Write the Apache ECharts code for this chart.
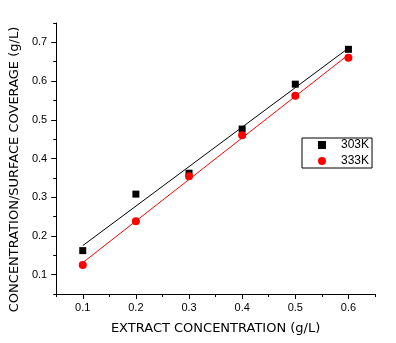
<!DOCTYPE html>
<html>
<head>
<meta charset="utf-8">
<script src="https://cdn.jsdelivr.net/npm/echarts@6/dist/echarts.min.js"></script>
<style>
  html, body { margin: 0; padding: 0; background: #fff; }
  #chart { width: 396px; height: 343px; }
</style>
</head>
<body>
<div id="chart"></div>
<script>
const concX = [0.1, 0.2, 0.3, 0.4, 0.5, 0.6]
const vals303 = [0.162, 0.308, 0.362, 0.476, 0.592, 0.682]
const vals333 = [0.125, 0.238, 0.354, 0.460, 0.562, 0.660]
// fitted lines, read at x = 0.1 and x = 0.6
const fitX = [0.1, 0.6]
const fit303 = [0.175, 0.685]
const fit333 = [0.131, 0.668]
const xMajor = [0.1, 0.2, 0.3, 0.4, 0.5, 0.6]
const xMinor = [0.05, 0.15, 0.25, 0.35, 0.45, 0.55, 0.65]
const yMajor = [0.1, 0.2, 0.3, 0.4, 0.5, 0.6, 0.7]
const yMinor = [0.05, 0.15, 0.25, 0.35, 0.45, 0.55, 0.65, 0.75]

const font = 'Liberation Sans, Arial, sans-serif'
const nameFont = 'DejaVu Sans, sans-serif'
const pairs = (xs, ys) => xs.map((x, i) => [x, ys[i]])

let myChart = echarts.init(document.getElementById('chart'))
myChart.setOption({
  animation: false,
  grid: {
    left: 54,
    right: 21,
    top: 23,
    bottom: 49
  },
  legend: {
    orient: 'vertical',
    left: 302,
    top: 138,
    data: ['303K', '333K'],
    itemWidth: 8,
    itemHeight: 8,
    itemGap: 4,
    padding: [1, 3, 1, 16],
    borderColor: '#000',
    borderWidth: 1,
    textStyle: {
      color: '#000',
      fontFamily: font,
      fontSize: 12,
      padding: [0, 0, 0, 10]
    }
  },
  xAxis: [{
    type: 'value',
    min: 0.05,
    max: 0.65,
    name: 'EXTRACT CONCENTRATION (g/L)',
    nameLocation: 'middle',
    nameGap: 28,
    nameTextStyle: { color: '#000', fontFamily: nameFont, fontSize: 13 },
    axisLine: { show: true, lineStyle: { color: '#000', width: 1 } },
    axisTick: { show: true, customValues: xMajor, length: 5, lineStyle: { color: '#000' } },
    axisLabel: {
      customValues: xMajor,
      margin: 8,
      color: '#000',
      fontFamily: font,
      fontSize: 11,
      formatter: v => v.toFixed(1)
    },
    splitLine: { show: false }
  }, {
    type: 'value',
    min: 0.05,
    max: 0.65,
    position: 'bottom',
    axisLine: { show: false },
    axisTick: { show: true, customValues: xMinor, length: 3, lineStyle: { color: '#000' } },
    axisLabel: { show: false },
    splitLine: { show: false }
  }],
  yAxis: [{
    type: 'value',
    min: 0.05,
    max: 0.75,
    name: 'CONCENTRATION/SURFACE COVERAGE (g/L)',
    nameLocation: 'middle',
    nameRotate: 90,
    nameGap: 31,
    nameTextStyle: { color: '#000', fontFamily: nameFont, fontSize: 13, padding: [0, 22, 0, 0] },
    axisLine: { show: true, lineStyle: { color: '#000', width: 1 } },
    axisTick: { show: true, customValues: yMajor, length: 5, lineStyle: { color: '#000' } },
    axisLabel: {
      customValues: yMajor,
      margin: 9,
      color: '#000',
      fontFamily: font,
      fontSize: 11,
      formatter: v => v.toFixed(1)
    },
    splitLine: { show: false }
  }, {
    type: 'value',
    min: 0.05,
    max: 0.75,
    position: 'left',
    axisLine: { show: false },
    axisTick: { show: true, customValues: yMinor, length: 3, lineStyle: { color: '#000' } },
    axisLabel: { show: false },
    splitLine: { show: false }
  }],
  series: [{
    type: 'line',
    name: 'fit303',
    data: pairs(fitX, fit303),
    showSymbol: false,
    symbol: 'none',
    lineStyle: { color: '#000', width: 1 },
    z: 2
  }, {
    type: 'line',
    name: 'fit333',
    data: pairs(fitX, fit333),
    showSymbol: false,
    symbol: 'none',
    lineStyle: { color: '#f00', width: 1 },
    z: 2
  }, {
    type: 'scatter',
    name: '303K',
    symbol: 'rect',
    symbolSize: 7,
    itemStyle: { color: '#000', opacity: 1 },
    data: pairs(concX, vals303),
    z: 3
  }, {
    type: 'scatter',
    name: '333K',
    symbol: 'circle',
    symbolSize: 8,
    itemStyle: { color: '#f00', opacity: 1 },
    data: pairs(concX, vals333),
    z: 3
  }]
})
</script>
</body>
</html>
